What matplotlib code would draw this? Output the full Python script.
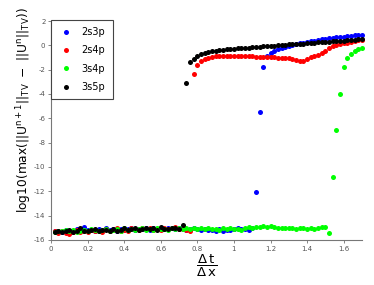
import matplotlib
matplotlib.use("Agg")
import matplotlib.pyplot as plt
import numpy as np

# dt/dx grid, 0.02 .. 1.70
ratio = np.round(np.arange(1, 86) * 0.02, 2)

# 2s3p (blue)
tv_2s3p = [-15.30, -15.22, -15.35, -15.18, -15.28, -15.25, -15.12, -15.30, -14.95, -15.20,
           -15.15, -15.25, -15.10, -15.20, -15.05, -15.18, -15.12, -15.22, -15.08, -15.15,
           -15.10, -15.02, -15.18, -15.08, -15.12, -15.05, -15.15, -15.00, -15.10, -15.08,
           -15.12, -15.05, -15.02, -15.10, -14.98, -15.08, -15.15, -15.10, -15.05, -15.12,
           -15.18, -15.10, -15.20, -15.15, -15.22, -15.12, -15.25, -15.15, -15.18, -15.10,
           -15.05, -15.12, -15.08, -15.15, -15.02,
           -12.08, -5.45, -1.75, -0.85, -0.62,
           -0.45, -0.32, -0.22, -0.14, -0.06, 0.02, 0.10, 0.17, 0.23, 0.28,
           0.33, 0.38, 0.43, 0.48, 0.53, 0.57, 0.61, 0.65, 0.69, 0.72,
           0.75, 0.78, 0.81, 0.83, 0.85]

# 2s4p (red)
tv_2s4p = [-15.30, -15.42, -15.28, -15.45, -15.50, -15.35, -15.20, -15.32, -15.25, -15.38,
           -15.15, -15.30, -15.22, -15.35, -15.12, -15.28, -15.18, -15.05, -15.25, -15.15,
           -15.22, -14.98, -15.10, -15.20, -15.05, -15.12, -15.00, -15.15, -15.08, -15.18,
           -15.02, -15.10, -15.05, -14.95, -15.12, -15.08, -15.15, -15.22,
           -2.38, -1.64, -1.31, -1.12, -1.02, -0.95, -0.91, -0.88, -0.86, -0.85,
           -0.85, -0.85, -0.86, -0.87, -0.88, -0.89, -0.91, -0.93, -0.95, -0.97,
           -0.98, -0.99, -1.00, -1.01, -1.03, -1.05, -1.07, -1.12, -1.20, -1.27,
           -1.25, -1.12, -1.00, -0.90, -0.78, -0.66, -0.45, -0.25, -0.08, 0.02,
           0.10, 0.17, 0.23, 0.31, 0.36, 0.40, 0.45]

# 3s4p (green)
tv_3s4p = [-15.35, -15.25, -15.30, -15.20, -15.28, -15.15, -15.32, -15.22, -15.18, -15.25,
           -15.12, -15.20, -15.28, -15.15, -15.08, -15.22, -15.18, -15.10, -15.25, -15.05,
           -15.15, -15.08, -15.20, -15.12, -15.02, -15.18, -15.10, -15.15, -15.05, -15.12,
           -15.08, -15.15, -15.02, -15.10, -15.05, -15.12, -15.00, -15.08, -15.05, -15.10,
           -15.05, -15.12, -15.02, -15.10, -15.08, -15.15, -15.00, -15.10, -15.05, -15.12,
           -15.08, -15.15, -15.05, -14.95, -15.02, -14.92, -14.95, -14.88, -14.95, -14.85,
           -14.95, -15.00, -14.98, -15.05, -15.00, -15.02, -15.08, -14.98, -15.05, -15.10,
           -14.98, -15.10, -15.02, -14.95, -14.92, -15.45,
           -10.79, -6.96, -4.00, -1.78, -1.07, -0.71, -0.47, -0.33, -0.25]

# 3s5p (black)
tv_3s5p = [-15.38, -15.30, -15.35, -15.25, -15.20, -15.32, -15.28, -15.05, -15.22, -15.30,
           -15.18, -15.10, -15.25, -15.15, -15.20, -15.28, -15.12, -15.22, -15.15, -15.05,
           -15.18, -15.10, -15.02, -15.15, -15.08, -14.98, -15.12, -15.05, -15.15, -14.95,
           -15.08, -15.12, -14.98, -15.05, -15.10, -14.80,
           -3.10, -1.37, -1.10, -0.85,
           -0.72, -0.63, -0.55, -0.48, -0.44, -0.40, -0.37, -0.33, -0.30, -0.28,
           -0.26, -0.23, -0.20, -0.18, -0.16, -0.13, -0.11, -0.09, -0.07, -0.04,
           -0.02, 0.01, 0.03, 0.05, 0.07, 0.09, 0.11, 0.13, 0.15, 0.17,
           0.20, 0.22, 0.24, 0.26, 0.28, 0.30, 0.32, 0.34, 0.36, 0.38,
           0.41, 0.43, 0.46, 0.49, 0.52]

labels = ["2s3p", "2s4p", "3s4p", "3s5p"]
colors = ["#0000ff", "#ff0000", "#00ff00", "#000000"]

plt.rcParams["mathtext.fontset"] = "dejavusans"

fig = plt.figure(figsize=(3.74, 2.85), dpi=100)
ax = fig.add_axes([51 / 374, 1 - 240 / 285, 311 / 374, 219 / 285])

for vals, lab, col in zip([tv_2s3p, tv_2s4p, tv_3s4p, tv_3s5p], labels, colors):
    ax.plot(ratio, vals, "o", ms=3.6, mew=0, color=col, label=lab, clip_on=False)

ax.set_xlim(0, 1.7)
ax.set_ylim(-16, 2)
ax.set_xticks(np.arange(0, 1.61, 0.2))
ax.set_xticklabels(["0", "0.2", "0.4", "0.6", "0.8", "1", "1.2", "1.4", "1.6"])
ax.set_yticks(np.arange(-16, 2.1, 2))
ax.set_yticklabels([str(v) for v in range(-16, 3, 2)])
ax.tick_params(labelsize=5, colors="#555555", length=2, width=0.5, pad=2)
for s in ["top", "right"]:
    ax.spines[s].set_visible(False)
for s in ["left", "bottom"]:
    ax.spines[s].set_color("#777777")
    ax.spines[s].set_linewidth(0.8)

ax.set_xlabel(r"$\dfrac{\Delta\,\mathrm{t}}{\Delta\,\mathrm{x}}$", fontsize=9.5)
ax.xaxis.set_label_coords(0.5, -0.06)
ax.xaxis.label.set_va("top")

ax.set_ylabel(r"log10(max($\mathregular{||U^{n+1}||_{TV}\ -\ ||U^{n}||_{TV}}$))",
              fontsize=8.8)
ax.yaxis.label.set_ha("left")
ax.yaxis.set_label_coords(-0.055, 0.123)

leg = ax.legend(loc="upper left", bbox_to_anchor=(0, 1.005), borderaxespad=0,
                fontsize=7, fancybox=False, framealpha=1, edgecolor="#444444",
                handletextpad=0.8, labelspacing=0.85, borderpad=0.75, handlelength=1.6,
                markerscale=1.0)
leg.get_frame().set_linewidth(0.8)

fig.savefig("out.png", dpi=100)
